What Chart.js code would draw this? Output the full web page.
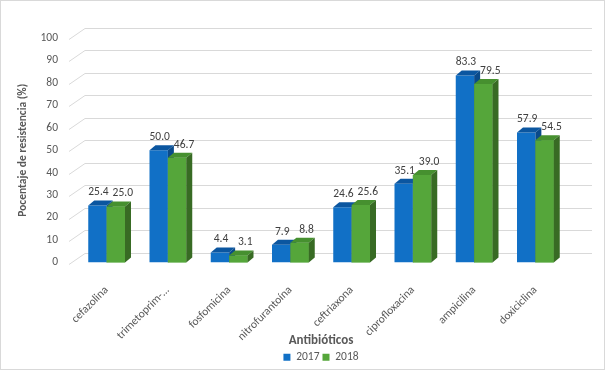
<!DOCTYPE html>
<html>
<head>
<meta charset="utf-8">
<script src="https://cdn.jsdelivr.net/npm/chart.js@4.4.1/dist/chart.umd.min.js"></script>
<style>
	html, body { margin: 0; padding: 0; background: #fff; }
	#wrap { width: 605px; height: 370px; }
</style>
</head>
<body>
<div id="wrap"><canvas id="chart" width="605" height="370"></canvas></div>
<script>
var categories = ['cefazolina', 'trimetoprim-...', 'fosfomicina', 'nitrofurantoína',
	'ceftriaxona', 'ciprofloxacina', 'ampicilina', 'doxiciclina'];
var seriesNames = ['2017', '2018'];
var values2017 = [25.4, 50.0, 4.4, 7.9, 24.6, 35.1, 83.3, 57.9];
var values2018 = [25.0, 46.7, 3.1, 8.8, 25.6, 39.0, 79.5, 54.5];
var yMin = 0;
var yMax = 100;
var yStep = 10;

var fontFamily = "Calibri, Carlito, 'Liberation Sans', Arial, sans-serif";
var textGray = '#595959';
var depth = { dx: 6, dy: 5 };

// front / top / side colours of each series
var faces = [
	{ front: '#1170C6', top: '#0B56A0', side: '#0A4A8A' },
	{ front: '#55A63A', top: '#46902F', side: '#386B24' }
];

// back wall gridlines, slanted at the left edge
var wallPlugin = {
	id: 'wall',
	beforeDatasetsDraw: function(chart) {
		var ctx = chart.ctx;
		var yScale = chart.scales.y;
		var area = chart.chartArea;
		ctx.save();
		ctx.strokeStyle = '#d9d9d9';
		ctx.lineWidth = 1;
		yScale.ticks.forEach(function(t) {
			var py = Math.round(yScale.getPixelForValue(t.value)) + 0.5;
			ctx.beginPath();
			ctx.moveTo(area.left - 7, py + 1);
			ctx.lineTo(area.left + 9, py - 10);
			ctx.lineTo(area.right + 26, py - 10);
			ctx.stroke();
		});
		ctx.restore();
	}
};

function drawFaces(ctx, bar, col) {
	var p = bar.getProps(['x', 'y', 'base', 'width'], true);
	var l = p.x - p.width / 2;
	var r = p.x + p.width / 2;
	ctx.fillStyle = col.top;
	ctx.beginPath();
	ctx.moveTo(l, p.y);
	ctx.lineTo(l + depth.dx, p.y - depth.dy);
	ctx.lineTo(r + depth.dx, p.y - depth.dy);
	ctx.lineTo(r, p.y);
	ctx.closePath();
	ctx.fill();
	ctx.fillStyle = col.side;
	ctx.beginPath();
	ctx.moveTo(r, p.y);
	ctx.lineTo(r + depth.dx, p.y - depth.dy);
	ctx.lineTo(r + depth.dx, p.base - depth.dy);
	ctx.lineTo(r, p.base);
	ctx.closePath();
	ctx.fill();
}

// 3d faces: the 2018 front is drawn again so it hides the 2017 side
var boxPlugin = {
	id: 'box3d',
	afterDatasetsDraw: function(chart) {
		var ctx = chart.ctx;
		var m0 = chart.getDatasetMeta(0);
		var m1 = chart.getDatasetMeta(1);
		ctx.save();
		m0.data.forEach(function(bar) { drawFaces(ctx, bar, faces[0]); });
		m1.data.forEach(function(bar) {
			bar.draw(ctx);
			drawFaces(ctx, bar, faces[1]);
		});
		ctx.restore();
	}
};

var labelPlugin = {
	id: 'valueLabels',
	afterDatasetsDraw: function(chart) {
		var ctx = chart.ctx;
		ctx.save();
		ctx.font = '11.5px ' + fontFamily;
		ctx.fillStyle = '#404040';
		ctx.textAlign = 'center';
		ctx.textBaseline = 'middle';
		chart.data.datasets.forEach(function(ds, i) {
			var meta = chart.getDatasetMeta(i);
			meta.data.forEach(function(bar, j) {
				var p = bar.getProps(['x', 'y'], true);
				ctx.fillText(ds.data[j].toFixed(1), p.x + (i == 1 ? 7 : 1), p.y - 13);
			});
		});
		ctx.restore();
	}
};

var framePlugin = {
	id: 'frame',
	afterDraw: function(chart) {
		var ctx = chart.ctx;
		ctx.save();
		ctx.strokeStyle = '#d9d9d9';
		ctx.lineWidth = 1;
		ctx.strokeRect(0.5, 0.5, chart.width - 1, chart.height - 1);
		ctx.restore();
	}
};

new Chart(document.getElementById('chart'), {
	type: 'bar',
	data: {
		labels: categories,
		datasets: [{
			label: seriesNames[0],
			data: values2017,
			backgroundColor: faces[0].front
		}, {
			label: seriesNames[1],
			data: values2018,
			backgroundColor: faces[1].front
		}]
	},
	options: {
		responsive: false,
		animation: false,
		devicePixelRatio: 1,
		layout: { padding: { top: 38, right: 39, bottom: -3, left: 0 } },
		datasets: { bar: { categoryPercentage: 0.6, barPercentage: 1, borderWidth: 0 } },
		scales: {
			x: {
				grid: { display: false },
				border: { display: false },
				ticks: {
					color: textGray,
					font: { family: fontFamily, size: 11.5 },
					minRotation: 45,
					maxRotation: 45,
					padding: 13,
					autoSkip: false
				},
				title: {
					display: true,
					text: 'Antibióticos',
					color: textGray,
					font: { family: fontFamily, size: 13, weight: 'bold' },
					padding: { top: 0, bottom: 0 }
				},
				afterFit: function(scale) { scale.height = 86; }
			},
			y: {
				min: yMin,
				max: yMax,
				grid: { display: false },
				border: { display: false },
				ticks: {
					stepSize: yStep,
					color: textGray,
					font: { family: fontFamily, size: 11.5 },
					padding: 10
				},
				title: {
					display: true,
					text: 'Pocentaje de resistencia (%)',
					color: textGray,
					font: { family: fontFamily, size: 11.5, weight: 'bold' },
					padding: { top: 16, bottom: 0 }
				},
				afterFit: function(scale) { scale.width = 76; }
			}
		},
		plugins: {
			legend: {
				position: 'bottom',
				fullSize: false,
				labels: {
					color: textGray,
					font: { family: fontFamily, size: 11.5 },
					boxWidth: 7,
					boxHeight: 7,
					padding: 3
				}
			},
			tooltip: { enabled: false }
		}
	},
	plugins: [wallPlugin, boxPlugin, labelPlugin, framePlugin]
});
</script>
</body>
</html>
